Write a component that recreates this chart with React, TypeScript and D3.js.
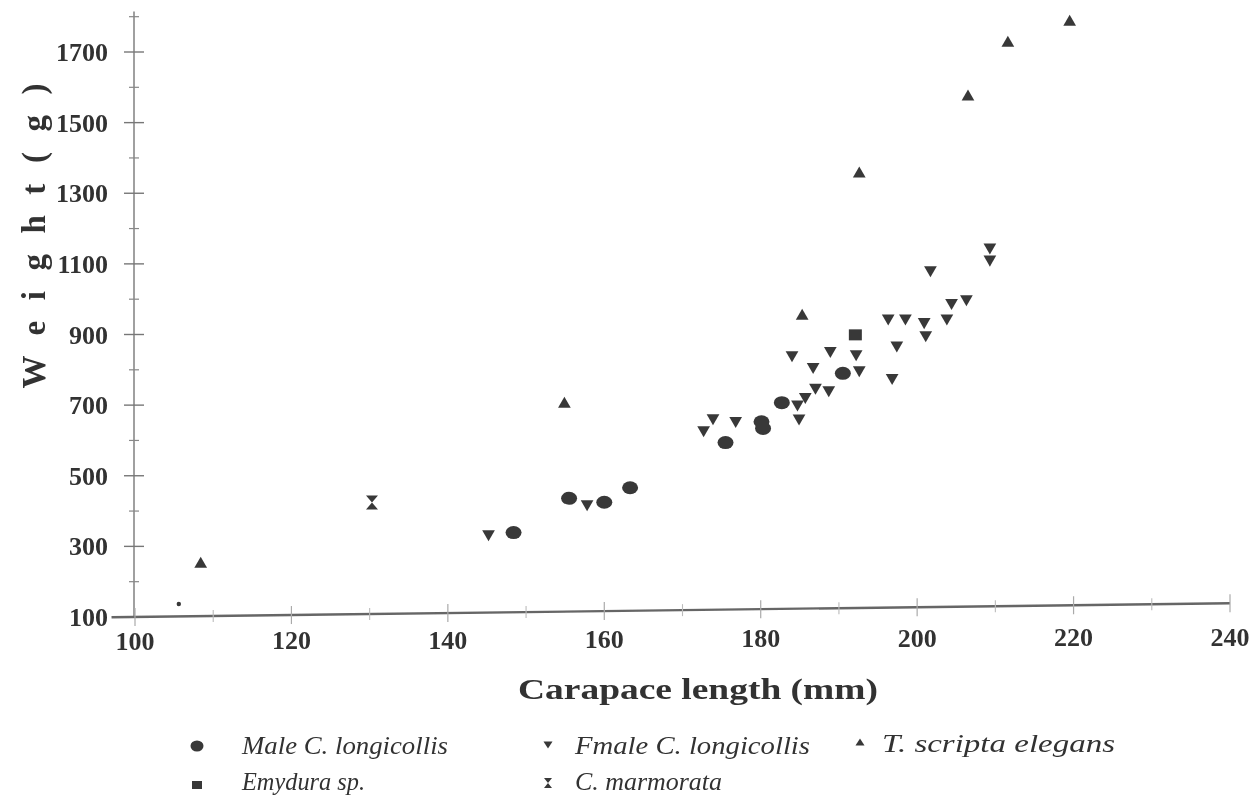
import React from "react";
import * as d3 from "d3";

// ---- data ----
const maleX = [148.4, 155.5, 160.0, 163.3, 175.5, 180.1, 180.3, 182.7, 190.5];
const maleY = [339, 436, 425, 466, 594, 653, 634, 707, 790];

const femaleX = [145.2, 157.8, 172.7, 173.9, 176.8, 184.7, 184.9, 185.7, 187.0, 188.7, 186.7, 184.0, 188.9, 192.2, 192.6, 196.8, 197.4, 196.3, 198.5, 200.9, 201.1, 203.8, 204.4, 206.3, 201.7, 209.3, 209.3];
const femaleY = [335, 420, 630, 664, 656, 703, 663, 724, 750, 743, 809, 842, 854, 845, 800, 778, 870, 946, 946, 936, 899, 946, 990, 1001, 1083, 1147, 1113];

const scriptaX = [108.4, 154.9, 185.3, 192.6, 206.5, 211.6, 219.5];
const scriptaY = [250, 703, 952, 1355, 1573, 1725, 1785];

const emyduraX = [192.1];
const emyduraY = [899];

const marmorataX = [130.3];
const marmorataY = [424];

const strayX = [105.6];
const strayY = [137];

const xTicks = [100, 120, 140, 160, 180, 200, 220, 240];
const xMinorTicks = [110, 130, 150, 170, 190, 210, 230];
const yTicks = [100, 300, 500, 700, 900, 1100, 1300, 1500, 1700];
const yMinorTicks = [200, 400, 600, 800, 1000, 1200, 1400, 1600, 1800];

const legendRow1 = ["Male C. longicollis", "Fmale C. longicollis", "T. scripta elegans"];
const legendRow2 = ["Emydura sp.", "C. marmorata"];

const W = 1258;
const H = 798;
const INK = "#383838";
const SERIF = "'Liberation Serif', 'Times New Roman', Tinos, Times, serif";

const x = d3.scaleLinear().domain([100, 240]).range([135, 1230]);
const y = d3.scaleLinear().domain([100, 1700]).range([617, 52]);
const tilt = -14 / 1118;
const axisY = (px: number) => y(100) + (px - x(100)) * tilt;

const triUp = d3.symbol().type(d3.symbolTriangle).size(70)() as string;
const hourglass = "M-6,-7 H6 L0,0 L6,7 H-6 L0,0 Z";

type Kind = "circle" | "down" | "up" | "square" | "hour" | "dot";

function Marker({ cx, cy, kind }: { cx: number; cy: number; kind: Kind }) {
  const t = `translate(${cx},${cy})`;
  if (kind === "circle") return <ellipse cx={cx} cy={cy} rx={8} ry={6.5} fill={INK} />;
  if (kind === "down") return <path d={triUp} transform={`${t} rotate(180)`} fill={INK} />;
  if (kind === "up") return <path d={triUp} transform={t} fill={INK} />;
  if (kind === "square") return <rect x={cx - 6.5} y={cy - 5.5} width={13} height={11} fill={INK} />;
  if (kind === "hour") return <path d={hourglass} transform={t} fill={INK} />;
  return <circle cx={cx} cy={cy} r={2.2} fill={INK} />;
}

const series: { xs: number[]; ys: number[]; kind: Kind }[] = [
  { xs: maleX, ys: maleY, kind: "circle" },
  { xs: femaleX, ys: femaleY, kind: "down" },
  { xs: scriptaX, ys: scriptaY, kind: "up" },
  { xs: emyduraX, ys: emyduraY, kind: "square" },
  { xs: marmorataX, ys: marmorataY, kind: "hour" },
  { xs: strayX, ys: strayY, kind: "dot" },
];

export default function App() {
  const yAxisX = x(100) - 1;
  const x0 = x(97);
  const x1 = x(240);
  return (
    <svg width={W} height={H} style={{ position: "absolute", left: 0, top: 0, background: "#fff" }}>
      <defs>
        <filter id="soft" x="-5%" y="-5%" width="110%" height="110%">
          <feGaussianBlur stdDeviation="0.6" />
        </filter>
      </defs>
      <g filter="url(#soft)">
        {/* Y axis */}
        <line x1={yAxisX} x2={yAxisX} y1={y(100)} y2={y(1815)} stroke="#777" strokeWidth={1.4} />
        {yTicks.map((v) => (
          <line key={"yt" + v} x1={yAxisX - 10} x2={yAxisX + 10} y1={y(v)} y2={y(v)} stroke="#777" strokeWidth={1.4} />
        ))}
        {yMinorTicks.map((v) => (
          <line key={"ym" + v} x1={yAxisX - 5} x2={yAxisX + 5} y1={y(v)} y2={y(v)} stroke="#888" strokeWidth={1.2} />
        ))}
        {yTicks.map((v) => (
          <text key={"yl" + v} x={108} y={y(v)} dy="0.35em" textAnchor="end" fontFamily={SERIF} fontWeight="bold" fontSize={26} fill="#333">
            {v}
          </text>
        ))}
        {/* X axis (slightly skewed as in the scan) */}
        <line x1={x0} x2={x1} y1={axisY(x0)} y2={axisY(x1)} stroke="#666" strokeWidth={2.4} />
        {xTicks.map((v) => (
          <line key={"xt" + v} x1={x(v)} x2={x(v)} y1={axisY(x(v)) - 9} y2={axisY(x(v)) + 9} stroke="#aaa" strokeWidth={1.2} />
        ))}
        {xMinorTicks.map((v) => (
          <line key={"xm" + v} x1={x(v)} x2={x(v)} y1={axisY(x(v)) - 6} y2={axisY(x(v)) + 6} stroke="#bbb" strokeWidth={1.1} />
        ))}
        {xTicks.map((v) => (
          <text key={"xl" + v} x={x(v)} y={650 - (x(v) - x(100)) * 0.004} textAnchor="middle" fontFamily={SERIF} fontWeight="bold" fontSize={26} fill="#333">
            {v}
          </text>
        ))}
        {/* Axis titles */}
        <text x={698} y={699} textAnchor="middle" fontFamily={SERIF} fontWeight="bold" fontSize={29} fill="#333" textLength={360} lengthAdjust="spacingAndGlyphs">
          Carapace length (mm)
        </text>
        <text transform="translate(45,236) rotate(-90)" textAnchor="middle" fontFamily={SERIF} fontWeight="bold" fontSize={33} fill="#333" textLength={305} lengthAdjust="spacing">
          W e i g h t ( g )
        </text>
        {/* Points */}
        {series.map((s, si) =>
          s.xs.map((xv, i) => <Marker key={si + "-" + i} cx={x(xv)} cy={y(s.ys[i])} kind={s.kind} />)
        )}
        {/* Legend */}
        <g fontFamily={SERIF} fontStyle="italic" fontSize={26} fill="#333">
          <ellipse cx={197} cy={746} rx={6.5} ry={5.5} fill={INK} />
          <text x={242} y={754} textLength={206} lengthAdjust="spacingAndGlyphs">{legendRow1[0]}</text>
          <path d="M-4.5,-3.5 H4.5 L0,3.5 Z" transform="translate(548,745)" fill={INK} />
          <text x={575} y={754} textLength={235} lengthAdjust="spacingAndGlyphs">{legendRow1[1]}</text>
          <path d="M-4.5,3.5 H4.5 L0,-3.5 Z" transform="translate(860,742)" fill={INK} />
          <text x={882} y={752} textLength={233} lengthAdjust="spacingAndGlyphs">{legendRow1[2]}</text>
          <rect x={192} y={781} width={10} height={8} fill={INK} />
          <text x={242} y={790} textLength={123} lengthAdjust="spacingAndGlyphs">{legendRow2[0]}</text>
          <path d="M-4,-5 H4 L0,0 L4,5 H-4 L0,0 Z" transform="translate(548,783)" fill={INK} />
          <text x={575} y={790} textLength={147} lengthAdjust="spacingAndGlyphs">{legendRow2[1]}</text>
        </g>
      </g>
    </svg>
  );
}
